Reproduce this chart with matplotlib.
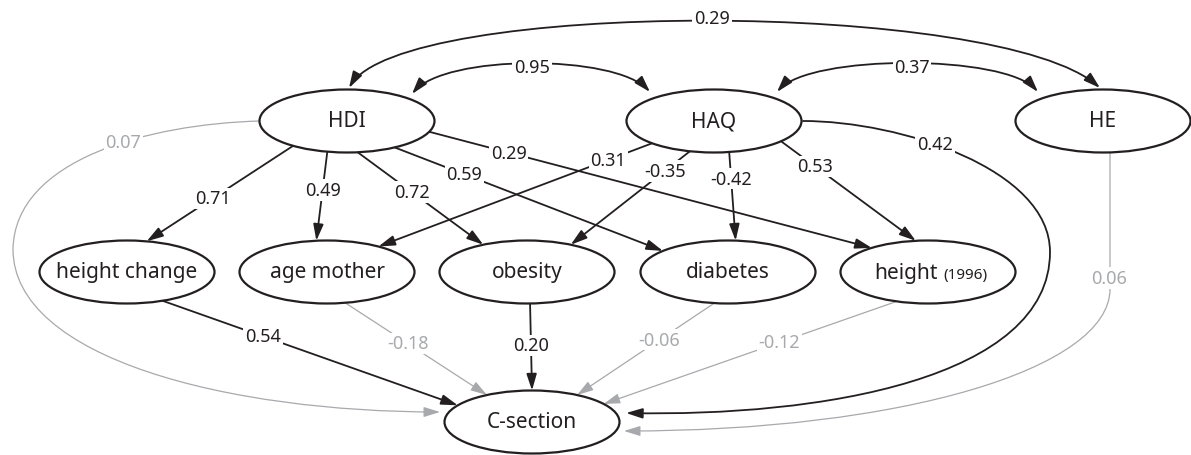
import numpy as np
import matplotlib.pyplot as plt
from matplotlib.patches import Ellipse, FancyArrowPatch, ArrowStyle
from matplotlib.path import Path

plt.rcParams['font.family'] = ['Noto Sans', 'DejaVu Sans']

# variables of the path model
nodes = ['HDI', 'HAQ', 'HE', 'height change', 'age mother', 'obesity',
         'diabetes', 'height', 'C-section']

# directed paths (standardised coefficients), grey = not significant
path_from = ['HDI', 'HDI', 'HDI', 'HDI', 'HDI',
             'HAQ', 'HAQ', 'HAQ', 'HAQ', 'HAQ',
             'HDI', 'HE',
             'height change', 'age mother', 'obesity', 'diabetes', 'height']
path_to = ['height change', 'age mother', 'obesity', 'diabetes', 'height',
           'age mother', 'obesity', 'diabetes', 'height', 'C-section',
           'C-section', 'C-section',
           'C-section', 'C-section', 'C-section', 'C-section', 'C-section']
path_coef = [0.71, 0.49, 0.72, 0.59, 0.29,
             0.31, -0.35, -0.42, 0.53, 0.42,
             0.07, 0.06,
             0.54, -0.18, 0.20, -0.06, -0.12]
path_signif = [True, True, True, True, True,
               True, True, True, True, True,
               False, False,
               True, False, True, False, False]

# correlations between the exogenous variables
cov_a = ['HDI', 'HDI', 'HAQ']
cov_b = ['HE', 'HAQ', 'HE']
cov_coef = [0.29, 0.95, 0.37]

# ---- layout (pixel units, y pointing down) ----
node_xy = {'HDI': (347, 122), 'HAQ': (714, 122), 'HE': (1103, 122),
           'height change': (127, 273), 'age mother': (327, 273),
           'obesity': (527, 273), 'diabetes': (728, 273),
           'height': (928, 273), 'C-section': (532, 423)}
NODE_W, NODE_H = 175, 63

# straight edges: angle on source ellipse, angle on target ellipse, label position
straight = {
    ('HDI', 'height change'): (-128, 77, 0.55),
    ('HDI', 'age mother'): (-103, 97, 0.43),
    ('HDI', 'obesity'): (-83, 120, 0.43),
    ('HDI', 'diabetes'): (-57, 138, 0.26),
    ('HDI', 'height'): (-20, 130, 0.18),
    ('HAQ', 'age mother'): (-135, 54, 0.16),
    ('HAQ', 'obesity'): (-106, 60, 0.21),
    ('HAQ', 'diabetes'): (-80, 85, 0.30),
    ('HAQ', 'height'): (-40, 98, 0.25),
    ('height change', 'C-section'): (-66, 148, 0.34),
    ('age mother', 'C-section'): (-78, 121, 0.44),
    ('obesity', 'C-section'): (-88, 90, 0.48),
    ('diabetes', 'C-section'): (-99, 59, 0.40),
    ('height', 'C-section'): (-111, 35, 0.40),
}

# curved edges: bezier vertices and label position
curved = {
    ('HAQ', 'C-section'): ([(803, 122), (900, 122), (1050, 170), (1050, 253),
                            (1050, 380), (820, 418), (626, 414)], (935, 145)),
    ('HE', 'C-section'): ([(1110, 153), (1110, 200), (1110, 250), (1110, 290),
                           (1110, 370), (900, 432), (624, 432)], (1109, 279)),
    ('HDI', 'C-section'): ([(260, 122), (150, 125), (15, 160), (13, 250),
                            (13, 360), (230, 413), (440, 413)], (123, 143)),
}
cov_curves = {
    ('HDI', 'HE'): ([(349, 89), (400, 0), (1000, 0), (1100, 89)], (712, 19)),
    ('HDI', 'HAQ'): ([(412, 95), (445, 55), (615, 55), (650, 93)], (532, 68)),
    ('HAQ', 'HE'): ([(777, 93), (810, 55), (1005, 55), (1038, 93)], (912, 68)),
}

BLACK = '#231f20'
GREY = '#a7a9ac'


def on_ellipse(name, deg):
    cx, cy = node_xy[name]
    t = np.radians(deg)
    return cx + NODE_W / 2 * np.cos(t), cy - NODE_H / 2 * np.sin(t)


def bezier_path(verts):
    codes = [Path.MOVETO] + [Path.CURVE4] * (len(verts) - 1)
    return Path(verts, codes)


def edge_label(ax, x, y, val, color):
    ax.text(x, y, f'{val:.2f}', ha='center', va='center', fontsize=13,
            color=color, zorder=5,
            bbox=dict(facecolor='white', edgecolor='none', pad=1.2))


fig = plt.figure(figsize=(11.91, 4.56), dpi=100)
ax = fig.add_axes([0, 0, 1, 1])
ax.set_xlim(0, 1191)
ax.set_ylim(456, 0)
ax.axis('off')

head = ArrowStyle('-|>', head_length=0.55, head_width=0.17)
both = ArrowStyle('<|-|>', head_length=0.55, head_width=0.17)

for s, d, c, sig in zip(path_from, path_to, path_coef, path_signif):
    color = BLACK if sig else GREY
    lw = 1.3 if sig else 0.9
    if (s, d) in straight:
        a1, a2, t = straight[(s, d)]
        p0 = on_ellipse(s, a1)
        p1 = on_ellipse(d, a2)
        ax.add_patch(FancyArrowPatch(p0, p1, arrowstyle=head, mutation_scale=18,
                                     color=color, lw=lw, shrinkA=0, shrinkB=0,
                                     zorder=2))
        lx = p0[0] + t * (p1[0] - p0[0])
        ly = p0[1] + t * (p1[1] - p0[1])
    else:
        verts, (lx, ly) = curved[(s, d)]
        ax.add_patch(FancyArrowPatch(path=bezier_path(verts), arrowstyle=head,
                                     mutation_scale=18, color=color, lw=lw,
                                     zorder=2))
    edge_label(ax, lx, ly, c, color)

for a, b, c in zip(cov_a, cov_b, cov_coef):
    verts, (lx, ly) = cov_curves[(a, b)]
    ax.add_patch(FancyArrowPatch(path=bezier_path(verts), arrowstyle=both,
                                 mutation_scale=18, color=BLACK, lw=1.3,
                                 zorder=2, clip_on=False))
    edge_label(ax, lx, ly, c, BLACK)

for n in nodes:
    cx, cy = node_xy[n]
    ax.add_patch(Ellipse((cx, cy), NODE_W, NODE_H, facecolor='white',
                         edgecolor=BLACK, lw=1.6, zorder=3))
    if n == 'height':
        ax.text(cx + 10, cy + 6, 'height', ha='right', va='baseline',
                fontsize=15, color=BLACK, zorder=4)
        ax.text(cx + 15, cy + 6, '(1996)', ha='left', va='baseline',
                fontsize=11, color=BLACK, zorder=4)
    else:
        ax.text(cx, cy, n, ha='center', va='center', fontsize=15,
                color=BLACK, zorder=4)

fig.savefig('out.png', dpi=100)
